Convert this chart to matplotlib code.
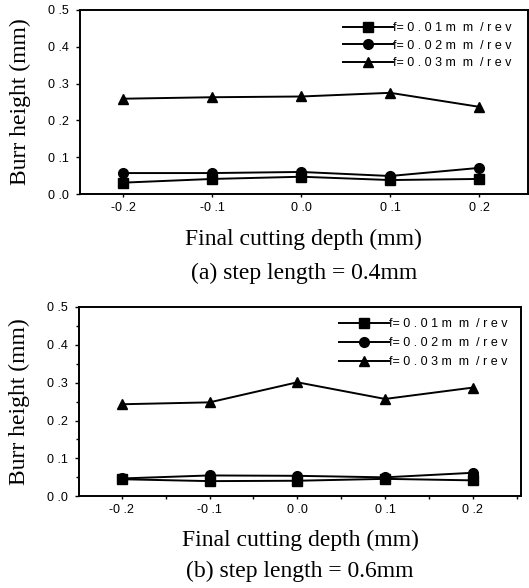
import numpy as np
import matplotlib
matplotlib.use('Agg')
import matplotlib.pyplot as plt
from matplotlib.ticker import MultipleLocator

plt.rcParams['font.family'] = ['Liberation Sans', 'DejaVu Sans']

# 数据
depth = [-0.2, -0.1, 0.0, 0.1, 0.2]
xtick_labels = ['-0 .2', '-0 .1', '0 .0', '0 .1', '0 .2']
yticks = [0.0, 0.1, 0.2, 0.3, 0.4, 0.5]
ytick_labels = ['0 .0', '0 .1', '0 .2', '0 .3', '0 .4', '0 .5']
series_names = ['f= 0 . 0 1 m  m  / r e v', 'f= 0 . 0 2 m  m  / r e v', 'f= 0 . 0 3 m  m  / r e v']
markers = ['s', 'o', '^']

# (a) step length = 0.4mm
burr_a_001 = [0.031, 0.041, 0.047, 0.038, 0.041]
burr_a_002 = [0.057, 0.057, 0.060, 0.049, 0.071]
burr_a_003 = [0.259, 0.263, 0.265, 0.275, 0.237]
# (b) step length = 0.6mm
burr_b_001 = [0.045, 0.040, 0.041, 0.046, 0.042]
burr_b_002 = [0.047, 0.055, 0.054, 0.050, 0.062]
burr_b_003 = [0.243, 0.248, 0.301, 0.257, 0.287]

captions = ['(a) step length = 0.4mm', '(b) step length = 0.6mm']

fig = plt.figure(figsize=(5.29, 5.88), dpi=100)
ax1 = fig.add_axes([0.151, 0.670, 0.847, 0.313])
ax2 = fig.add_axes([0.149, 0.156, 0.836, 0.322])

serif = ['Liberation Serif', 'DejaVu Serif']

def draw(ax, data, caption, minor, cap_off, xpad, leg_anchor, leg_sp):
    for ys, m, name in zip(data, markers, series_names):
        ax.plot(depth, ys, color='black', marker=m, markersize=7, lw=1.4, label=name)
    ax.set_xlim(-0.249, 0.255)
    ax.set_ylim(0, 0.5)
    ax.set_xticks(depth)
    ax.set_xticklabels(xtick_labels)
    ax.set_yticks(yticks)
    ax.set_yticklabels(ytick_labels)
    if minor:
        ax.xaxis.set_minor_locator(MultipleLocator(0.05))
        ax.yaxis.set_minor_locator(MultipleLocator(0.05))
    ax.tick_params(axis='x', direction='out', length=2.5, width=1, pad=3, labelsize=9)
    ax.tick_params(axis='y', direction='out', length=3, width=1, pad=5, labelsize=9)
    ax.tick_params(which='minor', direction='out', length=2, width=1)
    for s in ax.spines.values():
        s.set_linewidth(1.4)
    ax.set_ylabel('Burr height (mm)', family=serif, fontsize=17, labelpad=12)
    ax.set_xlabel('Final cutting depth (mm)', family=serif, fontsize=17, labelpad=xpad)
    ax.annotate(caption, xy=(0.5, 0), xycoords='axes fraction', xytext=(0, cap_off),
                textcoords='offset points', ha='center', va='center',
                family=serif, fontsize=17)
    ax.legend(loc='upper right', frameon=False, fontsize=9, handlelength=4.0,
              handletextpad=0, labelspacing=leg_sp, borderaxespad=0.5,
              bbox_to_anchor=leg_anchor)

draw(ax1, [burr_a_001, burr_a_002, burr_a_003], captions[0], False, -57, 11,
     (0.988, 0.995), 0.45)
draw(ax2, [burr_b_001, burr_b_002, burr_b_003], captions[1], True, -54, 10,
     (0.995, 1.0), 0.55)

fig.savefig('out.png', dpi=100)
